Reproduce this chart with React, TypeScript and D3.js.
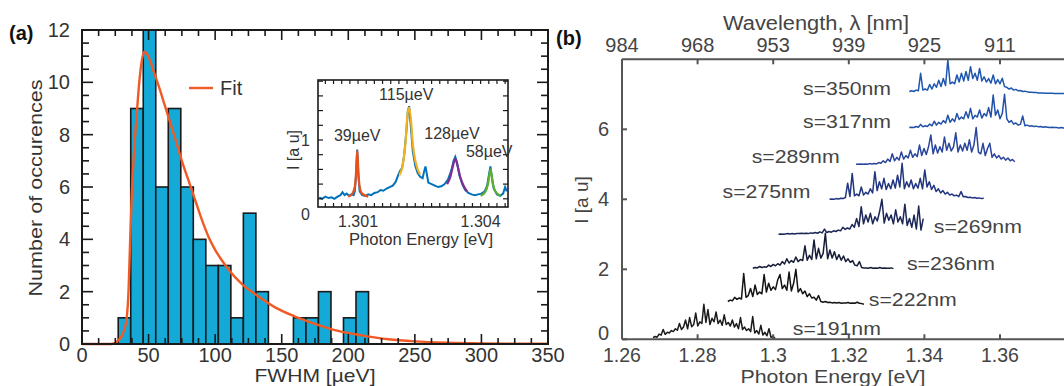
import React from "react";
import * as d3 from "d3";

// ---------- Panel (a): histogram of FWHM ----------
const binEdges = [27.2, 36.6, 46.0, 55.4, 64.8, 74.2, 83.6, 93.0, 102.4, 111.8, 121.2, 130.6, 140.0, 149.4, 158.8, 168.2, 177.6, 187.0, 196.4, 205.8];
const binWidth = 9.4;
const binCounts = [1, 9, 12, 6, 9, 6, 4, 3, 3, 1, 5, 2, 0, 0, 1, 1, 2, 0, 1, 2];

const fitX = [0, 20, 24, 26, 28, 30, 32, 33.5, 35, 36, 37.3, 39, 41, 43, 45, 46.8, 48.5, 51, 54, 58, 62, 66, 70, 75, 80, 85, 90, 95, 100, 105, 110, 120, 131, 145, 160, 175, 190, 210, 230, 250, 275, 300, 325, 350];
const fitY = [0, 0, 0.02, 0.08, 0.18, 0.32, 0.6, 0.95, 2.1, 3.7, 5.6, 7.3, 8.7, 10.0, 10.85, 11.17, 11.1, 10.85, 10.4, 9.8, 9.15, 8.5, 7.85, 7.0, 6.25, 5.5, 4.75, 4.1, 3.6, 3.2, 2.85, 2.3, 1.87, 1.4, 1.05, 0.77, 0.53, 0.33, 0.18, 0.1, 0.05, 0.025, 0.015, 0.01];

const aXTicks = [0, 50, 100, 150, 200, 250, 300, 350];
const aYTicks = [0, 2, 4, 6, 8, 10, 12];

// ---------- Inset ----------
const insetE = [1.30005, 1.30012, 1.3002, 1.30028, 1.30035, 1.30042, 1.3005, 1.30057, 1.30062, 1.30067, 1.30072, 1.30078, 1.30084, 1.30089, 1.30092, 1.30095, 1.30098, 1.30101, 1.30104, 1.3011, 1.30118, 1.30125, 1.30132, 1.3014, 1.30148, 1.30155, 1.30162, 1.3017, 1.30177, 1.30185, 1.30192, 1.30198, 1.30203, 1.30208, 1.30213, 1.30218, 1.30222, 1.30225, 1.30229, 1.30234, 1.3024, 1.30246, 1.30252, 1.30258, 1.30262, 1.30265, 1.30268, 1.30272, 1.3028, 1.30288, 1.30296, 1.30304, 1.30312, 1.3032, 1.30328, 1.30334, 1.30338, 1.30342, 1.30348, 1.30355, 1.30362, 1.3037, 1.30378, 1.30386, 1.30394, 1.30402, 1.3041, 1.30416, 1.30421, 1.30424, 1.30427, 1.30432, 1.3044, 1.30448, 1.30455, 1.3046, 1.30464];
const insetI = [0.22, 0.2, 0.23, 0.21, 0.22, 0.2, 0.23, 0.25, 0.29, 0.25, 0.27, 0.24, 0.26, 0.25, 0.3, 0.5, 0.87, 0.5, 0.3, 0.25, 0.24, 0.26, 0.25, 0.28, 0.29, 0.32, 0.31, 0.34, 0.36, 0.38, 0.43, 0.52, 0.58, 0.62, 0.8, 1.1, 1.4, 1.46, 1.2, 0.85, 0.65, 0.55, 0.5, 0.48, 0.58, 0.64, 0.55, 0.42, 0.4, 0.38, 0.36, 0.37, 0.4, 0.46, 0.58, 0.72, 0.77, 0.7, 0.52, 0.4, 0.32, 0.28, 0.26, 0.25, 0.26, 0.27, 0.3, 0.38, 0.55, 0.64, 0.52, 0.34, 0.26, 0.24, 0.27, 0.36, 0.3];

const fitOrangeE = [1.30076, 1.30086, 1.30092, 1.30095, 1.30098, 1.30101, 1.30104, 1.3011, 1.30125];
const fitOrangeI = [0.23, 0.27, 0.36, 0.55, 0.86, 0.55, 0.36, 0.27, 0.23];
const fitYellowE = [1.30201, 1.3021, 1.30216, 1.30221, 1.30225, 1.30229, 1.30234, 1.3024, 1.30246, 1.30252];
const fitYellowI = [0.52, 0.68, 0.95, 1.35, 1.44, 1.3, 0.95, 0.72, 0.6, 0.53];
const fitPurpleE = [1.30318, 1.30326, 1.30332, 1.30338, 1.30344, 1.3035, 1.30358, 1.30367];
const fitPurpleI = [0.4, 0.5, 0.64, 0.74, 0.64, 0.5, 0.38, 0.3];
const fitGreenE = [1.304, 1.30412, 1.30418, 1.30424, 1.3043, 1.30436, 1.30449];
const fitGreenI = [0.24, 0.3, 0.4, 0.6, 0.4, 0.3, 0.24];

const peakLabels = ["39µeV", "115µeV", "128µeV", "58µeV"];
const peakLabelE = [1.30098, 1.30218, 1.3033, 1.30421];
const peakLabelI = [0.99, 1.54, 1.02, 0.77];
const insetXTicks = [1.301, 1.304];

// ---------- Panel (b): spectra ----------
const energyTicks = [1.26, 1.28, 1.3, 1.32, 1.34, 1.36];
const energyTickLabels = ["1.26", "1.28", "1.3", "1.32", "1.34", "1.36"];
const wavelengthLabels = ["984", "968", "953", "939", "925", "911"];
const bYTicks = [0, 2, 4, 6];

const sLabels = ["s=191nm", "s=222nm", "s=236nm", "s=269nm", "s=275nm", "s=289nm", "s=317nm", "s=350nm"];
const sOffsets = [0, 1, 2, 3, 4, 5, 6, 7];
const sStart = [1.2682, 1.288, 1.2946, 1.3014, 1.3149, 1.3219, 1.336, 1.336];
const sEnd = [1.3005, 1.324, 1.3318, 1.3397, 1.3557, 1.3639, 1.378, 1.378];
const sLabelE = [1.3052, 1.3253, 1.3354, 1.3425, 1.2866, 1.2943, 1.3079, 1.3079];
const sLabelI = [0.12, 0.95, 1.98, 3.04, 4.04, 5.04, 6.04, 6.98];
const sColors = ["#1b1b1b", "#141414", "#161c36", "#1c2758", "#213581", "#2a459c", "#2251a9", "#1f56ae"];

const s191 = [0.05, 0.08, 0.06, 0.15, 0.12, 0.28, 0.14, 0.2, 0.18, 0.25,
  0.22, 0.3, 0.26, 0.45, 0.28, 0.35, 0.55, 0.3, 0.62, 0.36,
  0.42, 0.75, 0.38, 0.5, 0.45, 1.0, 0.48, 0.85, 0.42, 0.6,
  0.5, 0.78, 0.45, 0.55, 0.4, 0.7, 0.42, 0.48, 0.38, 0.55,
  0.35, 0.45, 0.3, 0.62, 0.28, 0.35, 0.25, 0.3, 0.22, 0.65,
  0.18, 0.25, 0.15, 0.4, 0.12, 0.2, 0.1, 0.3, 0.06, 0.08, 0.03];
const s222 = [0.08, 0.12, 0.1, 0.2, 0.14, 0.18, 0.15, 0.88, 0.2, 0.25,
  0.45, 0.22, 0.55, 0.28, 0.35, 0.3, 0.85, 0.35, 0.6, 0.4,
  0.5, 0.42, 0.7, 0.85, 0.45, 0.55, 0.4, 0.92, 0.38, 0.6,
  1.0, 0.35, 0.45, 0.3, 0.38, 0.22, 0.3, 0.18, 0.2, 0.12,
  0.25, 0.08, 0.06, 0.08, 0.05, 0.06, 0.04, 0.05, 0.04, 0.05,
  0.03, 0.04, 0.04, 0.05, 0.03, 0.04, 0.03, 0.06, 0.03, 0.02, 0.0];
const s236 = [0.03, 0.05, 0.04, 0.08, 0.05, 0.07, 0.06, 0.12, 0.08, 0.14,
  0.1, 0.16, 0.12, 0.22, 0.15, 0.3, 0.18, 0.25, 0.2, 0.35,
  0.22, 0.28, 0.25, 0.67, 0.26, 0.4, 0.28, 0.84, 0.3, 0.6,
  0.32, 0.45, 1.03, 0.3, 0.55, 0.32, 0.5, 0.28, 0.42, 0.26,
  0.38, 0.22, 0.3, 0.2, 0.25, 0.12, 0.1, 0.22, 0.05, 0.04,
  0.04, 0.03, 0.05, 0.03, 0.04, 0.03, 0.05, 0.03, 0.04, 0.03,
  0.03, 0.04, 0.02];
const s269 = [0.0, 0.01, 0.0, 0.01, 0.02, 0.01, 0.02, 0.01, 0.02, 0.02,
  0.03, 0.02, 0.03, 0.02, 0.04, 0.03, 0.05, 0.03, 0.07, 0.04,
  0.15, 0.05, 0.08, 0.06, 0.1, 0.08, 0.12, 0.1, 0.2, 0.14,
  0.18, 0.15, 0.28, 0.2, 0.45, 0.22, 0.79, 0.3, 0.55, 0.35,
  0.6, 0.3, 0.5, 0.38, 0.65, 1.0, 0.32, 0.6, 0.4, 0.55,
  0.3, 0.7, 0.35, 0.5, 0.3, 0.86, 0.25, 0.45, 0.2, 0.55,
  0.15, 0.81, 0.12, 0.45];
const s275 = [0.0, 0.01, 0.0, 0.02, 0.01, 0.03, 0.02, 0.05, 0.46, 0.08,
  0.74, 0.1, 0.15, 0.1, 0.35, 0.12, 0.2, 0.15, 0.3, 0.18,
  0.79, 0.25, 0.5, 0.3, 0.6, 0.28, 0.45, 0.3, 0.55, 0.32,
  0.69, 0.35, 1.03, 0.3, 0.5, 0.35, 0.55, 0.3, 0.45, 0.32,
  0.6, 0.3, 0.84, 0.35, 0.5, 0.28, 0.4, 0.22, 0.3, 0.18,
  0.25, 0.15, 0.2, 0.12, 0.15, 0.1, 0.12, 0.08, 0.22, 0.07,
  0.08, 0.05, 0.06, 0.04, 0.05, 0.03, 0.04, 0.02, 0.03];
const s289 = [0.0, 0.0, 0.01, 0.0, 0.01, 0.0, 0.02, 0.01, 0.02, 0.01,
  0.05, 0.03, 0.1, 0.05, 0.15, 0.08, 0.3, 0.1, 0.2, 0.12,
  0.35, 0.15, 0.25, 0.18, 0.4, 0.2, 0.3, 0.22, 0.55, 0.25,
  0.45, 0.28, 0.5, 0.84, 0.3, 0.55, 0.32, 0.5, 0.35, 0.78,
  0.4, 0.6, 0.38, 0.5, 0.9, 0.35, 0.55, 0.38, 0.6, 0.4,
  0.7, 0.35, 0.55, 1.05, 0.35, 0.3, 0.6, 0.25, 0.45, 0.6,
  0.2, 0.3, 0.18, 0.25, 0.15, 0.2, 0.12, 0.18, 0.1, 0.14, 0.07];
const s317 = [0.05, 0.06, 0.05, 0.08, 0.06, 0.14, 0.07, 0.1, 0.08, 0.15,
  0.1, 0.23, 0.12, 0.2, 0.15, 0.25, 0.18, 0.4, 0.2, 0.3,
  0.22, 0.45, 0.28, 0.35, 0.3, 0.5, 0.32, 0.6, 0.3, 0.4,
  0.35, 0.55, 0.32, 0.45, 0.38, 0.62, 0.35, 0.98, 0.4, 0.55,
  0.3, 0.45, 1.0, 0.3, 0.2, 0.25, 0.15, 0.18, 0.12, 0.14,
  0.38, 0.1, 0.12, 0.09, 0.1, 0.08, 0.09, 0.07, 0.08, 0.06,
  0.07, 0.06, 0.05, 0.06, 0.05, 0.05, 0.04, 0.05, 0.04, 0.04, 0.04];
const s350 = [0.08, 0.1, 0.08, 0.12, 0.1, 0.6, 0.12, 0.15, 0.12, 0.28,
  0.15, 0.3, 0.2, 0.4, 0.22, 0.45, 0.25, 0.98, 0.3, 0.35,
  0.3, 0.55, 0.35, 0.6, 0.38, 0.65, 0.4, 0.79, 0.45, 0.6,
  0.4, 0.74, 0.38, 0.5, 0.35, 0.45, 0.32, 0.55, 0.3, 0.42,
  0.3, 0.46, 0.22, 0.2, 0.15, 0.18, 0.12, 0.14, 0.1, 0.11,
  0.08, 0.09, 0.07, 0.06, 0.06, 0.05, 0.05, 0.04, 0.04, 0.04,
  0.03, 0.03, 0.03, 0.03, 0.02, 0.02, 0.02, 0.02, 0.02, 0.02, 0.02];
const sValues = [s191, s222, s236, s269, s275, s289, s317, s350];

const FONT = "'Liberation Sans', Arial, Helvetica, sans-serif";

export default function App() {
  const W = 1064, H = 386;
  const xA = d3.scaleLinear().domain([0, 350]).range([82, 548]);
  const yA = d3.scaleLinear().domain([0, 12]).range([344, 30]);
  const xI = d3.scaleLinear().domain([1.30002, 1.30467]).range([318, 508]);
  const yI = d3.scaleLinear().domain([0, 1]).range([213.5, 140]);
  const insetTop = 80, insetBottom = 207;
  const xB = d3.scaleLinear().domain([1.26, 1.36]).range([622, 1000]);
  const yB = d3.scaleLinear().domain([0, 8]).range([339.3, 59.3]);

  const fitLine = d3.line<number>().x((_, i) => xA(fitX[i])).y((_, i) => yA(fitY[i])).curve(d3.curveMonotoneX);
  const insetLine = (E: number[], I: number[], curve: any) =>
    d3.line<number>().x((_, i) => xI(E[i])).y((_, i) => yI(I[i])).curve(curve)(E) || "";
  const specLine = (k: number) => {
    const vals = sValues[k];
    const n = vals.length;
    const step = (sEnd[k] - sStart[k]) / (n - 1);
    return d3.line<number>().x((_, i) => xB(sStart[k] + i * step)).y((v) => yB(sOffsets[k] + v)).curve(d3.curveLinear)(vals) || "";
  };

  const aMinorX = d3.range(0, 350.01, 12.5);
  const aMinorY = d3.range(0, 12.01, 0.5);
  const insetMinorX = d3.range(1.3002, 1.30467, 0.0002);
  const insetMinorY = d3.range(0.2, 1.81, 0.2);
  const textCol = "#333";
  const axB = "#555";

  return (
    <svg width={W} height={H} style={{ position: "fixed", left: 0, top: 0, background: "#fff" }} fontFamily={FONT}>
      <rect x={0} y={0} width={W} height={H} fill="#fff" />
      {/* ===== Panel (a) ===== */}
      <text x={9} y={40} fontSize={20} fontWeight="bold" fill="#111">(a)</text>
      {binCounts.map((c, i) =>
        c > 0 ? (
          <rect key={"bar" + i} x={xA(binEdges[i])} y={yA(c)} width={xA(binEdges[i] + binWidth) - xA(binEdges[i])} height={yA(0) - yA(c)}
            fill="#15a9d8" stroke="#1a1a1a" strokeWidth={1.6} />
        ) : null
      )}
      <path d={fitLine(fitX) || ""} fill="none" stroke="#f15a24" strokeWidth={2.4} />
      <rect x={xA(0)} y={yA(12)} width={xA(350) - xA(0)} height={yA(0) - yA(12)} fill="none" stroke="#1a1a1a" strokeWidth={2} />
      {aMinorX.map((v, i) => {
        const major = v % 50 === 0;
        const L = major ? 10 : 6;
        return (
          <g key={"ax" + i} stroke="#1a1a1a" strokeWidth={1.6}>
            <line x1={xA(v)} x2={xA(v)} y1={yA(0)} y2={yA(0) - L} />
            <line x1={xA(v)} x2={xA(v)} y1={yA(12)} y2={yA(12) + L} />
          </g>
        );
      })}
      {aMinorY.map((v, i) => {
        const major = v % 2 === 0;
        const L = major ? 11 : 7;
        return (
          <g key={"ay" + i} stroke="#1a1a1a" strokeWidth={1.6}>
            <line x1={xA(0)} x2={xA(0) + L} y1={yA(v)} y2={yA(v)} />
            <line x1={xA(350)} x2={xA(350) - L} y1={yA(v)} y2={yA(v)} />
          </g>
        );
      })}
      {aXTicks.map((v) => (
        <text key={"axl" + v} x={xA(v)} y={362} fontSize={20} textAnchor="middle" fill={textCol}>{v}</text>
      ))}
      {aYTicks.map((v) => (
        <text key={"ayl" + v} x={70} y={yA(v) + 7} fontSize={20} textAnchor="end" fill={textCol}>{v}</text>
      ))}
      <text x={(xA(0) + xA(350)) / 2} y={382} fontSize={19} textAnchor="middle" fill={textCol} textLength={121} lengthAdjust="spacingAndGlyphs">FWHM [µeV]</text>
      <text transform={`translate(42,${188}) rotate(-90)`} fontSize={19} textAnchor="middle" fill={textCol} textLength={217} lengthAdjust="spacingAndGlyphs">Number of occurences</text>
      <line x1={189} x2={213} y1={88} y2={88} stroke="#f15a24" strokeWidth={2.4} />
      <text x={220} y={95} fontSize={20} fill={textCol}>Fit</text>

      {/* ===== Inset ===== */}
      <rect x={318} y={insetTop} width={190} height={insetBottom - insetTop} fill="#fff" />
      <path d={insetLine(insetE, insetI, d3.curveLinear)} fill="none" stroke="#0072bd" strokeWidth={2} />
      <path d={insetLine(fitOrangeE, fitOrangeI, d3.curveMonotoneX)} fill="none" stroke="#e8501c" strokeWidth={2.2} />
      <path d={insetLine(fitYellowE, fitYellowI, d3.curveMonotoneX)} fill="none" stroke="#f2b21f" strokeWidth={2.2} />
      <path d={insetLine(fitPurpleE, fitPurpleI, d3.curveMonotoneX)} fill="none" stroke="#7e2f8e" strokeWidth={2.2} />
      <path d={insetLine(fitGreenE, fitGreenI, d3.curveMonotoneX)} fill="none" stroke="#5fae2e" strokeWidth={2.2} />
      <rect x={318} y={insetTop} width={190} height={insetBottom - insetTop} fill="none" stroke="#1a1a1a" strokeWidth={1.6} />
      {insetMinorX.map((v, i) => (
        <g key={"ix" + i} stroke="#1a1a1a" strokeWidth={1.2}>
          <line x1={xI(v)} x2={xI(v)} y1={insetBottom} y2={insetBottom - 4} />
          <line x1={xI(v)} x2={xI(v)} y1={insetTop} y2={insetTop + 4} />
        </g>
      ))}
      {insetMinorY.map((v, i) => (
        <g key={"iy" + i} stroke="#1a1a1a" strokeWidth={1.2}>
          <line x1={318} x2={323} y1={yI(v)} y2={yI(v)} />
          <line x1={508} x2={503} y1={yI(v)} y2={yI(v)} />
        </g>
      ))}
      {insetXTicks.map((v) => (
        <text key={"ixl" + v} x={xI(v)} y={227} fontSize={16} textAnchor="middle" fill={textCol}>{v.toFixed(3)}</text>
      ))}
      <text x={310} y={yI(1) + 6} fontSize={16} textAnchor="end" fill={textCol}>1</text>
      <text x={310} y={yI(0) + 6} fontSize={16} textAnchor="end" fill={textCol}>0</text>
      <text x={(318 + 508) / 2 + 8} y={245} fontSize={16} textAnchor="middle" fill={textCol} textLength={144} lengthAdjust="spacingAndGlyphs">Photon Energy [eV]</text>
      <text transform="translate(299,150) rotate(-90)" fontSize={16} textAnchor="middle" fill={textCol}>I [a u]</text>
      {peakLabels.map((t, i) => (
        <text key={"pl" + i} x={xI(peakLabelE[i])} y={yI(peakLabelI[i])} fontSize={16} textAnchor="middle" fill={textCol}>{t}</text>
      ))}

      {/* ===== Panel (b) ===== */}
      <text x={556} y={45} fontSize={20} fontWeight="bold" fill="#111">(b)</text>
      {sValues.map((_, k) => (
        <path key={"sp" + k} d={specLine(k)} fill="none" stroke={sColors[k]} strokeWidth={1.5} strokeLinejoin="round" />
      ))}
      {sLabels.map((t, k) => (
        <text key={"sl" + k} x={xB(sLabelE[k])} y={yB(sLabelI[k])} fontSize={19} fill="#444" textLength={88} lengthAdjust="spacingAndGlyphs">{t}</text>
      ))}
      <line x1={622} x2={W} y1={yB(0)} y2={yB(0)} stroke={axB} strokeWidth={2} />
      <line x1={622} x2={W} y1={yB(8)} y2={yB(8)} stroke={axB} strokeWidth={2} />
      <line x1={622} x2={622} y1={yB(8)} y2={yB(0)} stroke={axB} strokeWidth={2} />
      {energyTicks.map((e, i) => (
        <g key={"bx" + i}>
          <line x1={xB(e)} x2={xB(e)} y1={yB(0)} y2={yB(0) - 5} stroke={axB} strokeWidth={2} />
          <line x1={xB(e)} x2={xB(e)} y1={yB(8)} y2={yB(8) + 5} stroke={axB} strokeWidth={2} />
          <text x={xB(e)} y={362} fontSize={19.5} textAnchor="middle" fill="#444">{energyTickLabels[i]}</text>
          <text x={xB(e)} y={52} fontSize={20} textAnchor="middle" fill="#444">{wavelengthLabels[i]}</text>
        </g>
      ))}
      {bYTicks.map((v) => (
        <g key={"by" + v}>
          <line x1={622} x2={627} y1={yB(v)} y2={yB(v)} stroke={axB} strokeWidth={2} />
          <text x={609} y={yB(v) + (v === 0 ? 1 : 7)} fontSize={20} textAnchor="end" fill="#444">{v}</text>
        </g>
      ))}
      <text x={(xB(1.26) + W) / 2 - 10} y={383} fontSize={19} textAnchor="middle" fill="#444" textLength={185} lengthAdjust="spacingAndGlyphs">Photon Energy [eV]</text>
      <text x={816} y={30} fontSize={20} textAnchor="middle" fill="#444" textLength={186} lengthAdjust="spacingAndGlyphs">Wavelength, λ [nm]</text>
      <text transform="translate(588,200) rotate(-90)" fontSize={19} textAnchor="middle" fill="#444">I [a u]</text>
    </svg>
  );
}
